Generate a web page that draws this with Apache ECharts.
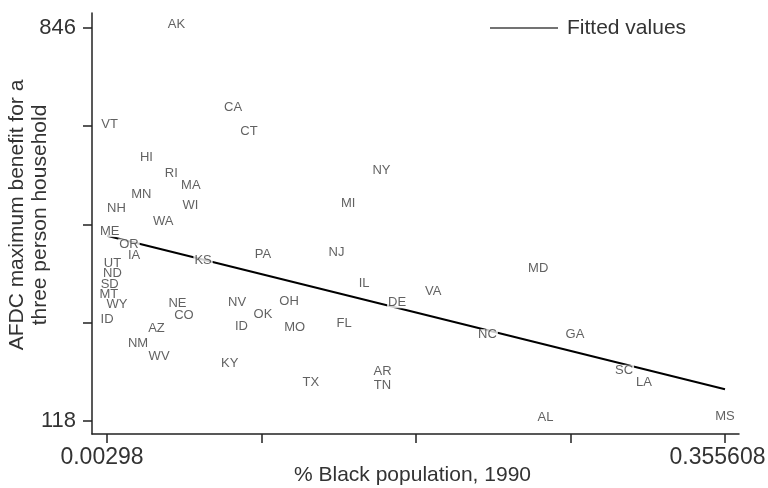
<!DOCTYPE html>
<html>
<head>
<meta charset="utf-8">
<script src="https://cdn.jsdelivr.net/npm/echarts@6/dist/echarts.min.js"></script>
<style>html,body{margin:0;padding:0;background:#fff}#c{width:768px;height:488px}</style>
</head>
<body>
<div id="c"></div>
<script>
const states = ['AK','CA','CT','VT','HI','RI','MA','MN','NH','WI','WA','ME','OR','IA','KS','UT','ND','SD','MT','WY','ID','NE','CO','AZ','NM','WV','NV','ID','KY','PA','NJ','IL','VA','OH','DE','OK','MO','FL','NC','TX','AR','TN','NY','MI','MD','GA','SC','LA','AL','MS'];
const pctBlack = [0.0426,0.0749,0.0840,0.0045,0.0255,0.0397,0.0508,0.0226,0.0084,0.0506,0.0350,0.0045,0.0155,0.0184,0.0578,0.0061,0.0061,0.0045,0.0040,0.0087,0.0030,0.0432,0.0469,0.0312,0.0207,0.0327,0.0772,0.0797,0.0730,0.0920,0.1339,0.1497,0.1891,0.1069,0.1685,0.0920,0.1101,0.1383,0.2201,0.1193,0.1602,0.1602,0.1596,0.1406,0.2490,0.2700,0.2980,0.3094,0.2532,0.355608];
const benefit = [846,692,648,661,600,570,548,531,505,510,481,462,439,418,409,403,384,365,345,327,299,329,307,282,254,231,330,287,217,420,423,366,352,333,330,309,285,291,271,182,203,177,576,514,394,271,205,183,118,120];
const fitX = [0.00298, 0.355608];
const fitY = [460.7, 176.2];
const xTicks = [0.00298, 0.091137, 0.179294, 0.267451, 0.355608];
const xTickLabels = ['0.00298', '0.355608'];
const yTicks = [118, 300, 482, 664, 846];
const yTickLabels = ['118', '846'];

const FONT = 'Liberation Sans, Arial, sans-serif';
const TXT = '#333';
const chart = echarts.init(document.getElementById('c'), null, {renderer: 'canvas'});
const pts = states.map((s, i) => [pctBlack[i], benefit[i], s]);
const fit = fitX.map((x, i) => [x, fitY[i]]);
const xLabelValues = [xTicks[0], xTicks[xTicks.length - 1]];
const yLabelValues = [yTicks[0], yTicks[yTicks.length - 1]];

chart.setOption({
  animation: false,
  backgroundColor: '#fff',
  grid: {left: 92, right: 29, top: 13, bottom: 54, containLabel: false, outerBoundsMode: 'none'},
  legend: {
    data: ['Fitted values'],
    left: 490, top: 17, padding: 0,
    itemWidth: 68, itemHeight: 1.5,
    icon: 'rect',
    itemStyle: {color: '#444'},
    textStyle: {fontFamily: FONT, fontSize: 21, color: TXT, lineHeight: 22, padding: [0, 0, 0, 4]}
  },
  xAxis: {
    type: 'value', min: -0.00558, max: 0.3636,
    name: '% Black population, 1990', nameLocation: 'middle', nameGap: 31, nameMoveOverlap: false,
    nameTextStyle: {fontFamily: FONT, fontSize: 21, color: TXT, padding: [0, 6, 0, 0]},
    axisLine: {show: true, onZero: false, lineStyle: {color: '#222', width: 1.5}},
    axisTick: {show: true, length: 9, customValues: xTicks, lineStyle: {color: '#222', width: 1.5}},
    axisLabel: {customValues: xLabelValues, margin: 12, fontFamily: FONT, fontSize: 23, color: TXT,
      formatter: v => {
        const i = xLabelValues.indexOf(v);
        return '{' + (i === 0 ? 'a' : 'b') + '|' + xTickLabels[i] + '}';
      },
      rich: {
        a: {fontFamily: FONT, fontSize: 23, color: TXT, padding: [0, 10, 0, 0]},
        b: {fontFamily: FONT, fontSize: 23, color: TXT, padding: [0, 15, 0, 0]}
      }},
    splitLine: {show: false}
  },
  yAxis: {
    type: 'value', min: 93.3, max: 873.8,
    name: 'AFDC maximum benefit for a\nthree person household', nameLocation: 'middle', nameGap: 40, nameRotate: 90,
    nameMoveOverlap: false,
    nameTextStyle: {fontFamily: FONT, fontSize: 21, color: TXT, lineHeight: 23.5, padding: [0, 0, 0, 17]},
    axisLine: {show: true, onZero: false, lineStyle: {color: '#222', width: 1.5}},
    axisTick: {show: true, length: 9, customValues: yTicks, lineStyle: {color: '#222', width: 1.5}},
    axisLabel: {customValues: yLabelValues, margin: 16, fontFamily: FONT, fontSize: 22, color: TXT,
      formatter: v => yTickLabels[yLabelValues.indexOf(v)]},
    splitLine: {show: false}
  },
  series: [
    {
      name: 'Fitted values', type: 'line', data: fit, showSymbol: false, symbol: 'none',
      lineStyle: {color: '#000', width: 2}, itemStyle: {color: '#444'}, z: 2
    },
    {
      name: 'states', type: 'scatter', data: pts, symbolSize: 1, z: 3,
      itemStyle: {color: 'rgba(0,0,0,0)'},
      label: {show: true, position: 'top', distance: 0, offset: [0, 2.5], formatter: p => p.data[2],
        fontFamily: FONT, fontSize: 13, color: '#3a3a3a', lineHeight: 11,
        backgroundColor: '#fff', padding: [0, 1]}
    }
  ]
});
</script>
</body>
</html>
